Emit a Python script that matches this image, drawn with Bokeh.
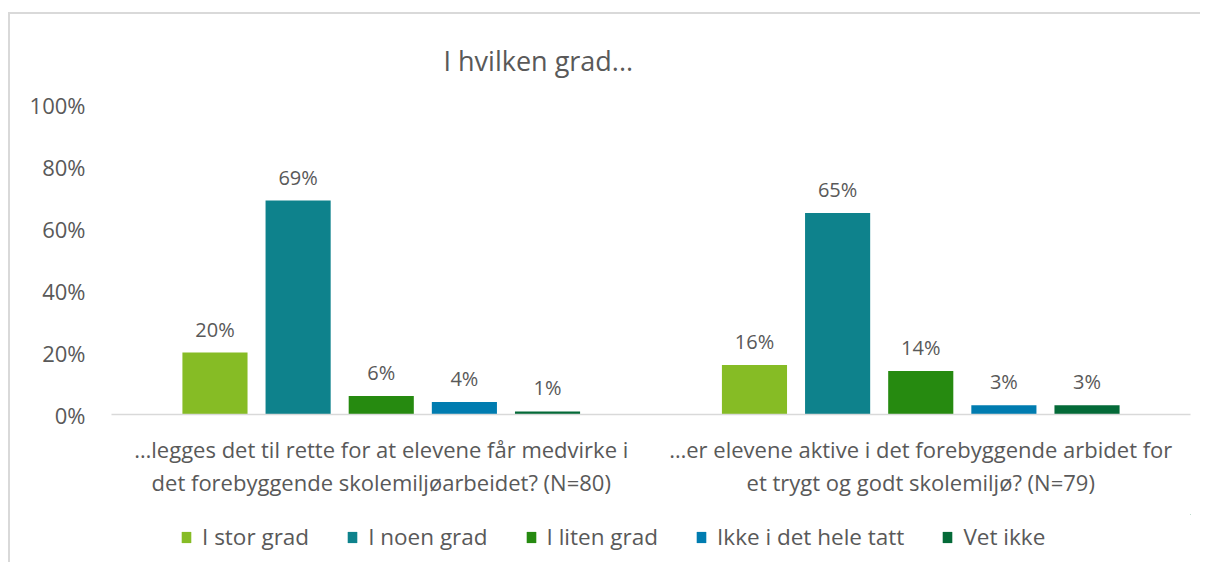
from bokeh.plotting import figure
from bokeh.layouts import column
from bokeh.models import (ColumnDataSource, FactorRange, Range1d, LabelSet, Legend, LegendItem,
                          FixedTicker, NumeralTickFormatter)
from bokeh.core.properties import value
from bokeh.transform import dodge
from bokeh.embed import file_html
from bokeh.resources import INLINE

categories = [
    "…legges det til rette for at elevene får medvirke i\ndet forebyggende skolemiljøarbeidet? (N=80)",
    "…er elevene aktive i det forebyggende arbidet for\net trygt og godt skolemiljø? (N=79)",
]
series = ["I stor grad", "I noen grad", "I liten grad", "Ikke i det hele tatt", "Vet ikke"]
i_stor_grad = [0.20, 0.16]
i_noen_grad = [0.69, 0.65]
i_liten_grad = [0.06, 0.14]
ikke_i_det_hele_tatt = [0.04, 0.03]
vet_ikke = [0.01, 0.03]
y_ticks = [0, 0.2, 0.4, 0.6, 0.8, 1.0]

colors = ["#86BC25", "#0E828C", "#268A10", "#007CB0", "#046A38"]
values = [i_stor_grad, i_noen_grad, i_liten_grad, ikke_i_det_hele_tatt, vet_ikke]

TXT = "#595959"
FONT = "Open Sans"
W = 1190

p = figure(x_range=FactorRange(*categories, range_padding=0), y_range=Range1d(0, 1),
           width=W, height=500, output_backend="svg", toolbar_location=None,
           min_border_left=101, min_border_right=10, min_border_top=90, min_border_bottom=100)
p.outline_line_color = None
p.xgrid.grid_line_color = None
p.ygrid.grid_line_color = None

p.title.text = "I hvilken grad..."
p.title.text_font = FONT
p.title.text_font_size = "27px"
p.title.text_font_style = "normal"
p.title.text_color = TXT
p.title.align = "left"
p.title.vertical_align = "top"
p.title.offset = 332
p.title.standoff = 48

step = 0.1541
width = 0.1207
offsets = [-2 * step, -step, 0, step, 2 * step]

for name, vals, col, off in zip(series, values, colors, offsets):
    src = ColumnDataSource(dict(x=categories, top=vals, label=[f"{round(v * 100)}%" for v in vals]))
    p.vbar(x=dodge("x", off, range=p.x_range), top="top", width=width, source=src,
           fill_color=col, line_color=None)
    p.add_layout(LabelSet(x=dodge("x", off, range=p.x_range), y="top", text="label", source=src,
                          y_offset=10, text_align="center", text_baseline="bottom",
                          text_font=value(FONT), text_font_size=value("20px"), text_color=TXT))

p.yaxis.ticker = FixedTicker(ticks=y_ticks)
p.yaxis.formatter = NumeralTickFormatter(format="0%")
p.yaxis.axis_line_color = None
p.yaxis.major_tick_line_color = None
p.yaxis.minor_tick_line_color = None
p.yaxis.major_label_standoff = 20
p.yaxis.major_label_text_font = FONT
p.yaxis.major_label_text_font_size = "22px"
p.yaxis.major_label_text_color = TXT

p.xaxis.axis_line_color = "#d9d9d9"
p.xaxis.axis_line_width = 1.5
p.xaxis.major_tick_line_color = None
p.xaxis.minor_tick_line_color = None
p.xaxis.major_label_standoff = 13
p.xaxis.major_label_text_font = FONT
p.xaxis.major_label_text_font_size = "22px"
p.xaxis.major_label_text_line_height = 1.12
p.xaxis.major_label_text_color = TXT

# legend in its own strip below the chart
lf = figure(x_range=Range1d(0, 1), y_range=Range1d(0, 1), width=W, height=48,
            output_backend="svg", toolbar_location=None,
            min_border_left=0, min_border_right=0, min_border_top=0, min_border_bottom=0)
lf.axis.visible = False
lf.grid.visible = False
lf.outline_line_color = None
items = []
for name, col in zip(series, colors):
    r = lf.vbar(x=[5], top=[5], bottom=[4], width=0.1, fill_color=col, line_color=None)
    items.append(LegendItem(label=name, renderers=[r]))
legend = Legend(items=items, orientation="horizontal", location=(69, 10),
                label_text_font=FONT, label_text_font_size="22.5px", label_text_color=TXT,
                glyph_width=12, glyph_height=14, label_standoff=10, spacing=37,
                border_line_color=None, background_fill_alpha=0, margin=0, padding=0)
lf.add_layout(legend)

layout = column(p, lf, spacing=0)
layout.styles = {"border-top": "2px solid #d9d9d9", "border-left": "2px solid #d9d9d9",
                 "margin-top": "12px", "margin-left": "8px"}

open("out.html", "w").write(file_html(layout, INLINE))
